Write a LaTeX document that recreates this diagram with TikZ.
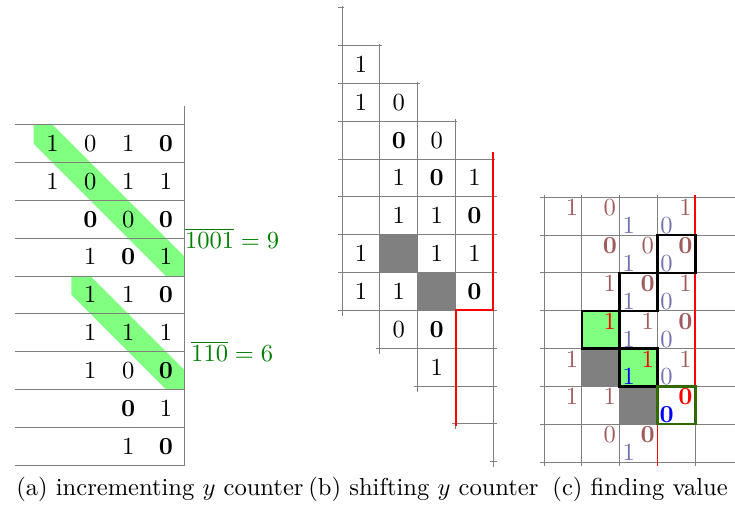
\documentclass[tikz,border=0pt]{standalone}
\usepackage{amsmath, amsfonts, amssymb}
\usepackage{xcolor}
\usepackage{tikz}

\definecolor{ybrown}{RGB}{160,92,92}
\definecolor{xblue}{RGB}{112,112,176}
\definecolor{boxgreen}{RGB}{50,105,0}
\newcommand{\bzero}{\mathbf{0}}

\begin{document}
\begin{tikzpicture}[x=15.4pt,y=15.4pt,
  gline/.style={gray,line width=0.4pt},
  ydig/.style={text=ybrown},
  xdig/.style={text=xblue},
  cellbox/.style={line width=1pt}]
\useasboundingbox (0,0) rectangle (19.44,13.44);

% (a) incrementing
\begin{scope}[shift={(0.89,1.14)}]
\fill[green!50] (0,9)--(0.5,9)--(4,5.5)--(4,5)--(3.5,5)--(0,8.5)--cycle;
\fill[green!50] (1,5)--(1.5,5)--(4,2.5)--(4,2)--(3.5,2)--(1,4.5)--cycle;
\foreach \k in {0,...,9} \draw[gline] (-0.5,\k)--(4,\k);
\draw[gline] (4,0)--(4,9.5);
\foreach \r/\c/\v in {1/1/1,1/2/0,1/3/1,1/4/\bzero, 2/1/1,2/2/0,2/3/1,2/4/1,
    3/2/\bzero,3/3/0,3/4/\bzero, 4/2/1,4/3/\bzero,4/4/1, 5/2/1,5/3/1,5/4/\bzero,
    6/2/1,6/3/1,6/4/1, 7/2/1,7/3/0,7/4/\bzero, 8/3/\bzero,8/4/1, 9/3/1,9/4/\bzero}
  \node (a\r\c) at (\c-0.5,9.5-\r) {$\v$};
\node[text=green!50!black] (nine) at (5.25,6) {$\overline{1001}=9$};
\node[text=green!50!black] (six) at (5.25,3) {$\overline{110}=6$};
\end{scope}

% (b) shifting
\begin{scope}[shift={(9.05,1.23)}]
\fill[black!50] (1,5) rectangle (2,6);
\fill[black!50] (2,4) rectangle (3,5);
\foreach \k in {0,...,12} \draw[gline] ({max(-0.1,3.9-\k)},\k)--({min(4.1,12.05-\k)},\k);
\foreach \i in {0,...,4} \draw[gline] (\i,{3.85-\i})--(\i,{12.05-\i});
\draw[red,thick] (4,8.2)--(4,4)--(3,4)--(3,0.95);
\foreach \c/\r/\v in {0/1/1, 0/2/1,1/2/0, 1/3/\bzero,2/3/0, 1/4/1,2/4/\bzero,3/4/1,
    1/5/1,2/5/1,3/5/\bzero, 0/6/1,2/6/1,3/6/1, 0/7/1,1/7/1,3/7/\bzero,
    1/8/0,2/8/\bzero, 2/9/1}
  \node (b\c\r) at (\c+0.5,11.5-\r) {$\v$};
\end{scope}

% (c) finding value
\begin{scope}[shift={(14.39,1.22)}]
\fill[green!50] (1,3) rectangle (2,4);
\fill[green!50] (2,2) rectangle (3,3);
\fill[black!50] (1,2) rectangle (2,3);
\fill[black!50] (2,1) rectangle (3,2);
\foreach \k in {0,...,7} \draw[gline] (-0.1,\k)--(5.05,\k);
\foreach \i in {0,...,4} \draw[gline] (\i,-0.1)--(\i,7.05);
\draw[red,thick] (4,7.05)--(4,1)--(3,1)--(3,-0.1);
\draw[cellbox] (3,5) rectangle (4,6);
\draw[cellbox] (2,4) rectangle (3,5);
\draw[cellbox] (1,3) rectangle (2,4);
\draw[cellbox] (2,2) rectangle (3,3);
\draw[cellbox,boxgreen] (3,1) rectangle (4,2);
% y counter digits (top right)
\foreach \c/\r/\v in {0/0/1,1/0/0,3/0/1, 1/1/\bzero,2/1/0,3/1/\bzero, 1/2/1,2/2/\bzero,3/2/1,
    2/3/1,3/3/\bzero, 0/4/1,3/4/1, 0/5/1,1/5/1, 1/6/0,2/6/\bzero}
  \node[ydig] (ct\c\r) at (\c+0.74,6.72-\r) {$\v$};
\foreach \c/\r/\v in {1/3/1,2/4/1,3/5/\bzero}
  \node[text=red] (cr\c\r) at (\c+0.74,6.72-\r) {$\v$};
% x digits (bottom left)
\foreach \c/\r/\v in {2/0/1,3/0/0, 2/1/1,3/1/0, 2/2/1,3/2/0, 2/3/1,3/3/0, 3/4/0, 2/6/1}
  \node[xdig] (cb\c\r) at (\c+0.24,6.25-\r) {$\v$};
\foreach \c/\r/\v in {2/4/1,3/5/\bzero}
  \node[text=blue] (cx\c\r) at (\c+0.24,6.25-\r) {$\v$};
\end{scope}

\node[anchor=base] (capa) at (4.23,0.344) {(a) incrementing $y$ counter};
\node[anchor=base] (capb) at (11.2,0.344) {(b) shifting $y$ counter};
\node[anchor=base] (capc) at (16.93,0.344) {(c) finding value};
\end{tikzpicture}
\end{document}
